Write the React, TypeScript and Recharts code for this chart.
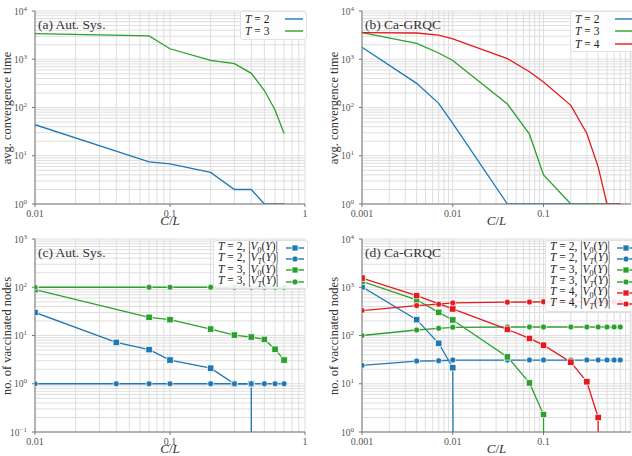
import { CartesianGrid, Legend, Line, LineChart, XAxis, YAxis } from "recharts";

const BLUE = "#1f77b4";
const GREEN = "#2ca02c";
const RED = "#e41a1c";
const SERIF = '"Liberation Serif", "DejaVu Serif", serif';
const AXIS = "#777";
const GRID = "#dedede";

// stands in for 0 on a log axis (line drops straight out of the plot)
const LOG_ZERO = 1e-300;

// (a) Aut. Sys. — avg. convergence time
const autX = [0.01, 0.07, 0.1, 0.2, 0.3, 0.4, 0.5, 0.6, 0.7];
const autTimeT2 = [44, 7.5, 6.8, 4.5, 2, 2, 1, 1, 1];
const autTimeT3 = [3400, 3050, 1650, 950, 810, 510, 225, 89, 29];

// (b) Ca-GRQC — avg. convergence time
const grqcX = [0.001, 0.004, 0.007, 0.01, 0.04, 0.07, 0.1, 0.2, 0.3, 0.4, 0.5, 0.6, 0.7];
const grqcTimeT2 = [1770, 316, 122, 47, 1, 1, 1, 1, 1, 1, 1, 1, 1];
const grqcTimeT3 = [3550, 2140, 1350, 940, 118, 28, 4, 1, 1, 1, 1, 1, 1];
const grqcTimeT4 = [3550, 3500, 3150, 2630, 1030, 550, 337, 111, 29, 5.9, 1, 1, 1];

// (c) Aut. Sys. — no. of vaccinated nodes (null = no run)
const autVaxX = [0.01, 0.04, 0.07, 0.1, 0.2, 0.3, 0.4, 0.5, 0.6, 0.7];
const autV0T2 = [30, 7.2, 5.1, 3.1, 2.1, 1, 1, 0, 0, 0];
const autVTT2 = [1, 1, 1, 1, 1, 1, 1, 1, 1, 1];
const autV0T3 = [89, null, 23.8, 21.3, 13.6, 10.2, 9.3, 8.3, 5.2, 3.1];
const autVTT3 = [100, null, 100, 100, 100, 100, 100, 100, 100, 100];

// (d) Ca-GRQC — no. of vaccinated nodes
const grqcV0T2 = [1020, 213, 69, 21.5, 0, 0, 0, 0, 0, 0, 0, 0, 0];
const grqcVTT2 = [24, 29.5, 30, 31, 31, 31, 31, 31, 31, 31, 31, 31, 31];
const grqcV0T3 = [1320, 550, 302, 210, 36, 10.4, 2.3, 0, 0, 0, 0, 0, 0];
const grqcVTT3 = [100, 130, 141, 148, 150, 150, 150, 150, 150, 150, 150, 150, 150];
const grqcV0T4 = [1550, 670, null, 355, 134, 87, 63, 28, 11, 2, 0, 0, 0];
const grqcVTT4 = [328, 417, 445, 474, 490, 495, 500, 500, 500, 500, 500, 500, 500];

const pts = (xs: number[], ys: (number | null)[]) =>
  xs
    .map((x, i) => ({ x, y: ys[i] === 0 ? LOG_ZERO : ys[i] }))
    .filter((p) => p.y != null);

// 1..9 x 10^k between lo and hi, used for the log grid
const logTicks = (lo: number, hi: number) => {
  const out: number[] = [];
  for (let e = Math.floor(Math.log10(lo)); e <= Math.ceil(Math.log10(hi)); e++) {
    for (let k = 1; k <= 9; k++) {
      const v = k * Math.pow(10, e);
      if (v >= lo * 0.999 && v <= hi * 1.001) out.push(+v.toPrecision(6));
    }
  }
  return out;
};

const isMajor = (v: number) => Math.abs(Math.log10(v) - Math.round(Math.log10(v))) < 1e-6;

function XTick({ x, y, payload }: any) {
  const v = payload.value;
  if (!isMajor(v)) return <g />;
  return (
    <g>
      <line x1={x} x2={x} y1={y} y2={y + 3} stroke={AXIS} />
      <text x={x} y={y + 13} textAnchor="middle" fontSize={10} fill="#555" fontFamily={SERIF}>
        {String(+v.toPrecision(3))}
      </text>
    </g>
  );
}

function YTick({ x, y, payload }: any) {
  const v = payload.value;
  if (!isMajor(v)) return <g />;
  const e = Math.round(Math.log10(v));
  return (
    <g>
      <line x1={x - 3} x2={x} y1={y} y2={y} stroke={AXIS} />
      <text x={x - 8} y={y + 3.5} textAnchor="end" fontSize={9.5} fill="#555" fontFamily={SERIF}>
        10
        <tspan dy={-4} fontSize={7}>
          {e < 0 ? `\u2212${-e}` : e}
        </tspan>
      </text>
    </g>
  );
}

const squareDot = (color: string) => (p: any) => {
  if (p.cx == null || p.cy == null) return <g key={`s${p.index}`} />;
  return (
    <rect
      key={`s${p.index}`}
      x={p.cx - 3.2}
      y={p.cy - 3.2}
      width={6.4}
      height={6.4}
      fill={color}
      stroke="#fff"
      strokeWidth={0.7}
    />
  );
};

type Row = { T: number; v?: "0" | "T"; color: string };

function LegendBox({ rows, textWidth, rowH, vax }: { rows: Row[]; textWidth: number; rowH: number; vax: boolean }) {
  return (
    <div
      style={{
        background: "rgba(255,255,255,0.88)",
        border: "1px solid #e2e2e2",
        borderRadius: 3,
        padding: "1px 3px 1px 4px",
        fontFamily: SERIF,
        fontSize: 11.5,
        color: "#222",
      }}
    >
      {rows.map((r, i) => (
        <div key={i} style={{ display: "flex", alignItems: "center", height: rowH, whiteSpace: "nowrap" }}>
          <span style={{ width: textWidth, display: "inline-block" }}>
            <i>T</i> = {r.T}
            {vax && (
              <>
                , |<i>V</i>
                <sub style={{ fontSize: 8, fontStyle: r.v === "T" ? "italic" : "normal" }}>{r.v}</sub>(<i>Y</i>)|
              </>
            )}
          </span>
          <svg width={18} height={10} style={{ overflow: "visible" }}>
            <line x1={0} x2={18} y1={5} y2={5} stroke={r.color} strokeWidth={1.4} />
            {vax && r.v === "0" && (
              <rect x={6} y={2} width={6} height={6} fill={r.color} stroke="#fff" strokeWidth={0.7} />
            )}
            {vax && r.v === "T" && <circle cx={9} cy={5} r={3} fill={r.color} stroke="#fff" strokeWidth={0.7} />}
          </svg>
        </div>
      ))}
    </div>
  );
}

type Series = { data: { x: number; y: number | null }[]; color: string; marker?: "square" | "circle" };

function Panel({
  left,
  top,
  yAxisWidth,
  xDomain,
  yDomain,
  title,
  yLabel,
  series,
  legend,
}: {
  left: number;
  top: number;
  yAxisWidth: number;
  xDomain: [number, number];
  yDomain: [number, number];
  title: string;
  yLabel: string;
  series: Series[];
  legend: { left: number; top: number; node: any };
}) {
  const W = 316;
  const H = 228;
  const marginRight = W - yAxisWidth - (yAxisWidth > 40 ? 269 : 270);
  const plotCx = yAxisWidth + (W - yAxisWidth - marginRight) / 2;
  return (
    <div style={{ position: "absolute", left, top, width: W, height: H }}>
      <LineChart width={W} height={H} margin={{ top: 11, right: marginRight, left: 0, bottom: 0 }}>
        <CartesianGrid stroke={GRID} strokeWidth={1} />
        <XAxis
          type="number"
          dataKey="x"
          scale="log"
          domain={xDomain}
          allowDataOverflow
          ticks={logTicks(xDomain[0], xDomain[1])}
          interval={0}
          tickSize={0}
          tickMargin={0}
          tickLine={false}
          axisLine={{ stroke: AXIS }}
          tick={<XTick />}
          height={24}
        />
        <YAxis
          type="number"
          dataKey="y"
          scale="log"
          domain={yDomain}
          allowDataOverflow
          ticks={logTicks(yDomain[0], yDomain[1])}
          interval={0}
          tickSize={0}
          tickMargin={0}
          tickLine={false}
          axisLine={{ stroke: AXIS }}
          tick={<YTick />}
          width={yAxisWidth}
        />
        {series.map((s, i) => (
          <Line
            key={i}
            data={s.data}
            dataKey="y"
            type="linear"
            stroke={s.color}
            strokeWidth={1.3}
            dot={
              s.marker === "square"
                ? squareDot(s.color)
                : s.marker === "circle"
                ? { r: 3, fill: s.color, stroke: "#fff", strokeWidth: 0.7 }
                : false
            }
            activeDot={false}
            legendType="none"
            isAnimationActive={false}
          />
        ))}
        <text x={yAxisWidth + 3} y={29} fontSize={13.5} fill="#333" fontFamily={SERIF}>
          {title}
        </text>
        <text
          x={yAxisWidth - 24}
          y={108}
          transform={`rotate(-90 ${yAxisWidth - 24} 108)`}
          textAnchor="middle"
          fontSize={12.5}
          fill="#333"
          fontFamily={SERIF}
        >
          {yLabel}
        </text>
        <text x={plotCx} y={225} textAnchor="middle" fontSize={13} fill="#333" fontFamily={SERIF}>
          <tspan fontStyle="italic">C</tspan>/<tspan fontStyle="italic">L</tspan>
        </text>
        <Legend
          layout="horizontal"
          verticalAlign="middle"
          align="center"
          wrapperStyle={{ left: legend.left, top: legend.top, width: "auto", height: "auto" }}
          content={() => legend.node}
        />
      </LineChart>
    </div>
  );
}

export default function App() {
  return (
    <div style={{ position: "absolute", left: 0, top: 0, width: 632, height: 456, background: "#fff", overflow: "hidden" }}>
      <Panel
        left={0}
        top={0}
        yAxisWidth={35}
        xDomain={[0.01, 1]}
        yDomain={[1, 10000]}
        title="(a) Aut. Sys."
        yLabel="avg. convergence time"
        series={[
          { data: pts(autX, autTimeT2), color: BLUE },
          { data: pts(autX, autTimeT3), color: GREEN },
        ]}
        legend={{
          left: 240,
          top: 11,
          node: (
            <LegendBox
              vax={false}
              rowH={12.3}
              textWidth={40}
              rows={[
                { T: 2, color: BLUE },
                { T: 3, color: GREEN },
              ]}
            />
          ),
        }}
      />
      <Panel
        left={316}
        top={0}
        yAxisWidth={46}
        xDomain={[0.001, 0.92]}
        yDomain={[1, 10000]}
        title="(b) Ca-GRQC"
        yLabel="avg. convergence time"
        series={[
          { data: pts(grqcX, grqcTimeT2), color: BLUE },
          { data: pts(grqcX, grqcTimeT3), color: GREEN },
          { data: pts(grqcX, grqcTimeT4), color: RED },
        ]}
        legend={{
          left: 254,
          top: 11,
          node: (
            <LegendBox
              vax={false}
              rowH={12.3}
              textWidth={40}
              rows={[
                { T: 2, color: BLUE },
                { T: 3, color: GREEN },
                { T: 4, color: RED },
              ]}
            />
          ),
        }}
      />
      <Panel
        left={0}
        top={228}
        yAxisWidth={35}
        xDomain={[0.01, 1]}
        yDomain={[0.1, 1000]}
        title="(c) Aut. Sys."
        yLabel="no. of vaccinated nodes"
        series={[
          { data: pts(autVaxX, autV0T2), color: BLUE, marker: "square" },
          { data: pts(autVaxX, autVTT2), color: BLUE, marker: "circle" },
          { data: pts(autVaxX, autV0T3), color: GREEN, marker: "square" },
          { data: pts(autVaxX, autVTT3), color: GREEN, marker: "circle" },
        ]}
        legend={{
          left: 213,
          top: 12,
          node: (
            <LegendBox
              vax
              rowH={11.3}
              textWidth={68}
              rows={[
                { T: 2, v: "0", color: BLUE },
                { T: 2, v: "T", color: BLUE },
                { T: 3, v: "0", color: GREEN },
                { T: 3, v: "T", color: GREEN },
              ]}
            />
          ),
        }}
      />
      <Panel
        left={316}
        top={228}
        yAxisWidth={46}
        xDomain={[0.001, 0.92]}
        yDomain={[1, 10000]}
        title="(d) Ca-GRQC"
        yLabel="no. of vaccinated nodes"
        series={[
          { data: pts(grqcX, grqcV0T2), color: BLUE, marker: "square" },
          { data: pts(grqcX, grqcVTT2), color: BLUE, marker: "circle" },
          { data: pts(grqcX, grqcV0T3), color: GREEN, marker: "square" },
          { data: pts(grqcX, grqcVTT3), color: GREEN, marker: "circle" },
          { data: pts(grqcX, grqcV0T4), color: RED, marker: "square" },
          { data: pts(grqcX, grqcVTT4), color: RED, marker: "circle" },
        ]}
        legend={{
          left: 229,
          top: 12,
          node: (
            <LegendBox
              vax
              rowH={11.3}
              textWidth={67}
              rows={[
                { T: 2, v: "0", color: BLUE },
                { T: 2, v: "T", color: BLUE },
                { T: 3, v: "0", color: GREEN },
                { T: 3, v: "T", color: GREEN },
                { T: 4, v: "0", color: RED },
                { T: 4, v: "T", color: RED },
              ]}
            />
          ),
        }}
      />
    </div>
  );
}
